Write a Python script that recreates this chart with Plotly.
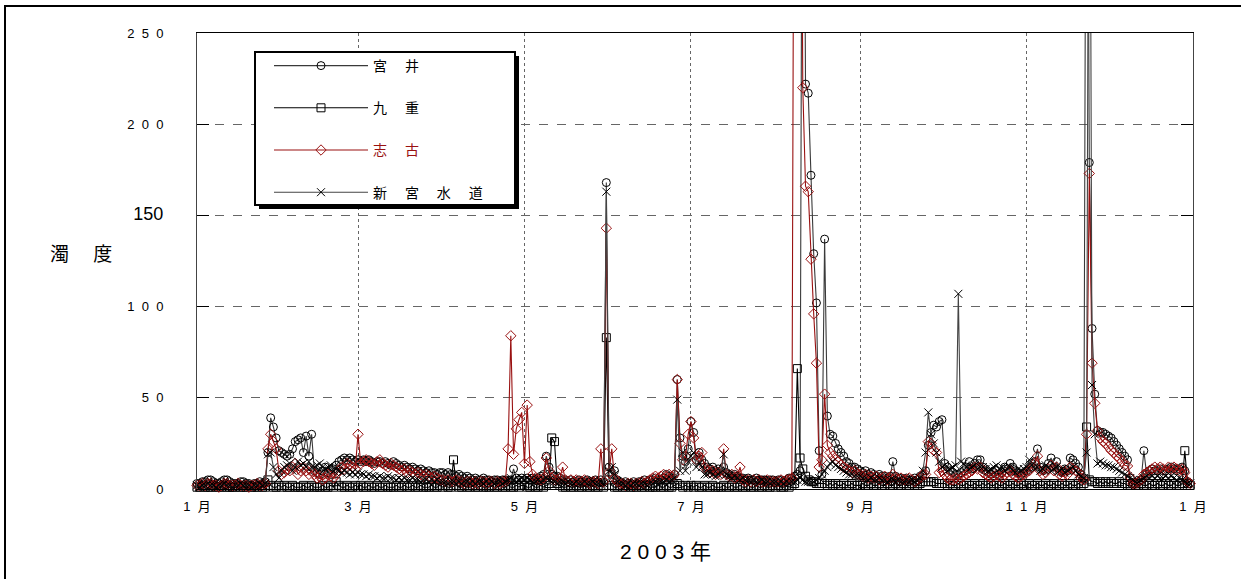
import plotly.graph_objects as go
import pandas as pd

# ---------------- data (daily turbidity, 2003) ----------------
dates = pd.date_range("2003-01-01", "2003-12-31", freq="D")

miyai = [
    3,3,4,4,5,5,4,3,3,4,5,5,4,3,3,3,4,4,3,3,2,3,3,4,3,4,20,39,34,28,21,
    20,19,18,19,22,26,27,28,20,29,18,30,10,9,8,10,12,9,8,11,13,15,16,17,16,17,16,15,
    16,15,16,15,16,15,14,15,15,14,15,14,13,15,14,13,12,13,12,11,12,11,10,11,10,9,10,9,9,8,9,
    9,8,9,8,8,7,8,7,6,7,6,5,6,5,5,6,5,5,4,5,5,4,5,5,4,5,11,6,5,6,
    5,6,5,6,5,6,7,8,18,12,8,7,7,6,5,5,4,5,4,4,5,4,4,5,4,4,5,4,5,4,168,
    12,8,10,5,4,3,4,3,3,4,3,4,4,5,4,5,5,6,5,5,6,8,7,6,8,60,28,18,15,22,
    37,31,16,20,16,14,12,11,12,10,11,10,12,9,8,7,8,7,6,6,5,6,5,5,6,5,5,5,4,5,5,
    4,5,5,4,5,6,6,7,8,10,500,222,217,172,129,102,21,8,137,40,30,29,25,22,20,18,15,14,12,12,11,
    10,9,10,8,9,8,7,8,7,7,6,7,15,7,6,6,5,6,5,5,6,5,7,8,10,24,31,35,34,37,
    38,14,12,10,9,8,8,9,10,12,15,11,14,16,16,12,10,9,8,9,10,8,9,12,11,14,12,10,9,8,9,
    10,12,14,15,22,12,10,11,14,17,12,15,10,9,11,10,17,16,14,12,8,6,500,179,88,52,32,31,31,30,
    29,28,26,24,22,20,18,16,6,3,3,4,5,21,8,10,11,10,10,11,10,10,11,12,11,10,11,12,10,4,3,
]

kokonoe = [
    1,1,2,1,1,1,2,1,1,1,2,1,1,1,1,2,1,1,1,2,1,1,1,2,1,1,5,2,1,1,2,
    1,2,1,1,2,1,1,1,2,1,1,2,1,1,1,2,1,1,2,1,4,2,1,1,2,1,1,2,
    1,2,1,1,2,1,1,2,1,1,2,1,1,1,2,1,1,2,1,1,2,1,1,2,1,1,1,2,1,1,2,
    1,2,1,1,16,2,1,1,2,1,1,2,1,1,2,1,1,1,2,1,1,2,1,1,2,1,1,2,1,2,
    2,1,1,2,1,1,2,1,2,3,28,26,3,2,1,1,2,1,1,2,1,1,2,1,1,2,1,1,2,1,83,
    5,2,1,1,2,1,1,2,1,1,1,2,1,1,2,1,1,1,2,1,1,2,1,1,2,3,2,1,2,1,
    2,1,2,1,1,2,1,1,2,1,1,1,2,1,1,2,1,1,2,1,1,2,1,1,2,1,1,2,1,1,2,
    1,2,1,1,2,1,2,3,66,17,11,7,5,4,4,3,3,3,3,2,3,2,3,2,2,3,2,2,3,2,2,
    2,3,2,2,3,2,2,3,2,2,3,2,2,3,2,2,3,2,2,3,2,2,3,4,4,4,4,4,3,3,
    3,3,2,3,2,2,3,2,2,3,2,2,3,2,2,3,2,3,2,2,3,2,2,3,2,2,3,2,2,3,2,
    2,3,2,2,3,2,2,3,2,2,3,2,2,3,2,2,3,2,2,3,2,3,34,5,4,4,3,4,3,4,
    3,4,3,3,4,3,3,2,2,3,2,2,3,2,2,3,2,2,3,2,2,3,2,2,3,2,2,3,21,3,2,
]

shiko = [
    2,2,3,2,3,3,2,2,1,2,3,3,2,2,2,3,2,2,2,1,2,2,3,2,2,3,22,30,26,22,10,
    8,9,11,10,12,14,8,10,12,10,8,10,8,6,7,5,6,8,7,6,8,10,12,11,14,13,12,11,
    30,14,15,16,15,14,13,15,16,14,13,12,14,13,12,11,10,11,9,10,9,8,9,8,7,8,7,6,7,6,5,
    5,4,5,4,4,5,4,4,3,4,4,3,4,3,4,4,3,4,4,3,4,3,4,4,22,84,19,33,38,42,
    14,46,15,8,6,5,5,6,17,10,6,5,5,6,12,5,4,5,4,5,4,4,5,4,3,4,4,3,22,4,143,
    9,22,6,4,3,3,2,3,3,2,3,3,4,3,4,5,6,7,6,7,8,7,8,7,8,60,25,16,18,30,
    37,28,16,18,20,12,10,9,10,8,9,8,22,8,7,8,6,7,12,5,4,5,4,5,4,5,4,4,5,4,4,
    4,4,5,4,5,5,6,500,500,500,220,166,163,126,96,69,12,16,52,24,20,18,16,15,13,12,11,10,9,10,8,
    8,7,8,6,7,6,7,5,6,7,5,6,8,6,5,6,5,5,6,5,4,5,6,8,8,26,25,21,20,9,
    10,8,6,5,5,6,5,6,7,8,9,10,12,11,12,9,8,7,6,7,8,7,6,8,9,10,8,7,6,7,8,
    9,10,12,14,18,10,8,9,11,13,10,12,8,7,9,8,12,11,10,9,6,5,30,173,69,47,32,28,26,25,
    23,21,20,18,17,15,13,12.6,6.5,3,3,4,5,8,9,10,11,12,11,12,11,10,12,11,12,11,10,11,9,4,3,
]

shingu = [
    2,1,2,2,3,2,2,1,2,2,3,2,2,1,2,2,3,2,2,2,1,2,2,3,2,3,19,20,12,8,6,
    10,12,13,14,10,12,15,13,14,12,15,12,12,13,14,12,11,12,13,10,11,10,9,10,9,8,9,8,
    9,8,8,7,8,7,7,6,7,6,6,7,6,6,5,6,5,6,5,5,6,5,5,4,5,5,4,5,4,5,4,
    4,4,3,4,4,3,4,3,4,4,3,4,3,4,4,3,4,3,4,3,4,4,3,4,5,6,5,4,5,6,
    5,6,5,4,4,5,4,5,6,5,4,4,3,4,4,3,4,3,3,4,3,3,4,3,3,4,3,3,4,3,163,
    10,12,8,4,3,3,2,3,2,3,3,2,3,3,2,3,3,4,3,4,4,5,4,5,6,49,10,20,10,15,
    18,20,12,14,12,8,8,9,8,7,8,9,19,8,7,6,7,6,5,6,5,5,4,5,4,4,5,4,4,3,4,
    4,3,4,3,4,3,4,4,5,6,5,4,4,4,4,5,6,8,10,12,14,15,13,12,11,10,9,8,8,7,7,
    7,6,6,5,6,5,5,6,5,5,4,5,5,4,5,4,4,5,4,5,4,5,6,10,20,42,30,25,20,15,
    12,13,10,11,12,13,107,15,14,12,11,12,13,11,12,12,11,10,11,12,13,11,12,10,11,12,10,9,11,10,11,
    12,16,13,11,12,10,11,13,12,10,11,12,10,11,9,10,11,12,10,8,7,6,20,500,57,30,14,15,14,13,
    13,12,12,11,10,9,8,7,6,5,4,4,5,6,7,6,7,6,7,6,6,7,6,7,6,5,6,5,4,3,3,
]

series_names = ["宮\u3000\u00a0井", "九\u3000\u00a0重",
                "<span style='color:#991111'>志\u3000\u00a0古</span>",
                "新\u3000\u00a0宮\u3000\u00a0水\u3000\u00a0道"]
month_ticks = ["2003-01-01", "2003-03-01", "2003-05-01", "2003-07-01",
               "2003-09-01", "2003-11-01", "2004-01-01"]
month_labels = ["1\u00a0\u00a0月", "3\u00a0\u00a0月", "5\u00a0\u00a0月", "7\u00a0\u00a0月",
                "9\u00a0\u00a0月", "1\u00a0\u00a01\u00a0\u00a0月", "1\u00a0\u00a0月"]
y_ticks = [0, 50, 100, 150, 200, 250]
y_labels = ["0", "5\u00a0\u00a00", "1\u00a0\u00a00\u00a0\u00a00",
            "<span style='font-size:18px'>150</span>",
            "2\u00a0\u00a00\u00a0\u00a00", "2\u00a0\u00a05\u00a0\u00a00"]

# ---------------- figure ----------------
W, H = 1241, 579
L, R, T, B = 197, 48, 33, 90
FONT = "Liberation Sans, Arial, Noto Sans CJK JP, sans-serif"

def px_x(p):
    return (p - L) / (W - L - R)

def px_y(p):
    return (H - B - p) / (H - T - B)

styles = [
    (miyai, "circle-open", "#3a3a3a", "#000000"),
    (kokonoe, "square-open", "#000000", "#000000"),
    (shiko, "diamond-open", "#991111", "#991111"),
    (shingu, "x-thin-open", "#444444", "#000000"),
]

fig = go.Figure()
for name, (vals, sym, lc, mc) in zip(series_names, styles):
    fig.add_trace(go.Scatter(
        x=dates, y=vals, mode="lines+markers", name=name, legendgroup=name,
        line=dict(color=lc, width=1.1),
        marker=dict(symbol=sym, size=8, color=mc, line=dict(width=1, color=mc)),
        cliponaxis=False,
    ))

shapes = [
    # outer frame
    dict(type="rect", xref="paper", yref="paper", x0=px_x(5), x1=px_x(1400),
         y0=px_y(700), y1=px_y(6), line=dict(color="black", width=2),
         fillcolor="rgba(0,0,0,0)", layer="above"),
    # legend shadow
    dict(type="rect", xref="paper", yref="paper", x0=px_x(259), x1=px_x(519),
         y0=px_y(209), y1=px_y(56), line=dict(width=0), fillcolor="black", layer="above"),
    # legend box
    dict(type="rect", xref="paper", yref="paper", x0=px_x(255), x1=px_x(515),
         y0=px_y(205), y1=px_y(52), line=dict(color="black", width=2),
         fillcolor="white", layer="above"),
]

annotations = [
    dict(text="濁\u3000\u00a0度", xref="paper", yref="paper", x=px_x(81), y=px_y(255),
         xanchor="center", yanchor="middle",
         showarrow=False, font=dict(size=19, family=FONT, color="black")),
    dict(text="2\u00a00\u00a00\u00a03\u00a0年", xref="paper", yref="paper", x=px_x(665), y=px_y(551),
         xanchor="center", yanchor="middle",
         showarrow=False, font=dict(size=21, family=FONT, color="black")),
]

fig.update_layout(
    width=W, height=H,
    margin=dict(l=L, r=R, t=T, b=B),
    paper_bgcolor="white", plot_bgcolor="white",
    font=dict(family=FONT, size=13, color="black"),
    showlegend=True,
    legend=dict(x=px_x(269), y=px_y(50), xanchor="left", yanchor="top",
                bgcolor="rgba(0,0,0,0)", borderwidth=0,
                font=dict(size=14, family=FONT, color="black"),
                tracegroupgap=21, itemwidth=94),
    shapes=shapes,
    annotations=annotations,
    xaxis=dict(
        range=["2003-01-01", "2004-01-01"], tickmode="array",
        tickvals=month_ticks, ticktext=month_labels,
        showgrid=True, gridcolor="#666666", griddash="dot", gridwidth=1,
        showline=True, linecolor="black", linewidth=1, mirror=True,
        ticks="inside", ticklen=4, tickcolor="black",
        ticklabelstandoff=5, tickfont=dict(size=13, family=FONT),
        zeroline=False,
    ),
    yaxis=dict(
        range=[0, 250], tickmode="array", tickvals=y_ticks, ticktext=y_labels,
        showgrid=True, gridcolor="#666666", griddash="dash", gridwidth=1,
        showline=True, linecolor="#444444", linewidth=1, mirror="ticks",
        ticks="inside", ticklen=12, tickcolor="black",
        ticklabelstandoff=30, tickfont=dict(size=13, family=FONT),
        zeroline=False,
    ),
)

fig.write_html("out.html", config={"displayModeBar": False},
               post_script="document.body.style.margin='0px';")
